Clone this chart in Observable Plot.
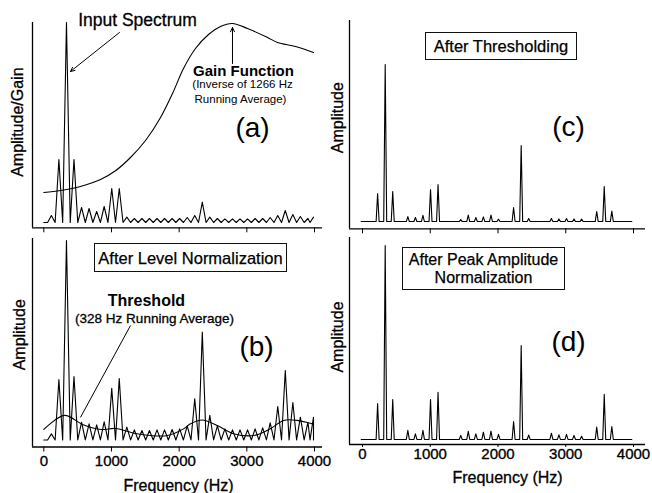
<!DOCTYPE html>
<html><head><meta charset="utf-8">
<script src="https://cdn.jsdelivr.net/npm/d3@7"></script>
<script src="https://cdn.jsdelivr.net/npm/@observablehq/plot@0.6"></script>
<style>
html,body{margin:0;padding:0;background:#fff;}
#root{position:relative;width:652px;height:493px;background:#fff;overflow:hidden;font-family:"Liberation Sans",Arial,Helvetica,sans-serif;color:#000;}
.panel{position:absolute;}
.panel svg{display:block;overflow:visible;}
.panel [aria-label^="x-axis"] text{stroke:#000;stroke-width:0.35px;}
.box{position:absolute;border:1.3px solid #111;box-sizing:border-box;display:flex;align-items:center;justify-content:center;text-align:center;font-size:16.5px;line-height:18px;-webkit-text-stroke:0.25px #000;background:#fff;}
.box.two{font-size:16px;line-height:18px;}
</style></head><body><div id="root"></div>
<script>
// ---------- data ----------
const tickHz = [0, 1000, 2000, 3000, 4000];
const harmonicHz = [112, 223, 335, 446, 558, 669, 781, 892, 1004, 1115, 1227, 1338, 1450, 1561, 1673, 1784, 1896, 2007, 2119, 2230, 2342, 2453, 2565, 2676, 2788, 2899, 3011, 3122, 3234, 3345, 3457, 3568, 3680, 3791, 3903];
// (a) input spectrum
const inputAmp = [3.5, 31.5, 100, 31.5, 7.5, 7, 5.5, 8, 17, 17, 2.7, 2, 2, 2, 2, 2, 2, 2, 2.5, 3.5, 10.2, 2.7, 2, 1.8, 1.8, 1.8, 1.8, 2, 2, 2.5, 3.5, 6, 4, 3, 2];
const inputEnd = {f: 3985, v: 2.7};
// (a) gain function
const gainHz  = [0, 247, 542, 838, 1064, 1281, 1503, 1725, 1902, 2064, 2241, 2434, 2611, 2787, 3010, 3306, 3454, 3720, 3985];
const gainVal = [15, 16, 18, 21.5, 26, 32.5, 41, 52.5, 64.5, 77, 87, 94, 98, 99.5, 97, 92.5, 90, 88, 85];
// (b) after level normalization
const levelAmp = [3, 30, 99, 31.5, 8.8, 8, 7.5, 9, 25.6, 30.5, 6.4, 5, 4.7, 4.7, 5, 5, 5.2, 5.5, 7, 20.4, 53.5, 12.2, 7, 5.5, 5, 5, 5, 5.5, 6, 8.5, 16.6, 34.5, 18.6, 11.3, 8.8];
const levelEnd = {f: 3985, v: 11.3};
// (b) threshold
const thresholdHz  = [0, 306, 572, 852, 1059, 1354, 1576, 1827, 2064, 2167, 2340, 2561, 2806, 3102, 3348, 3545, 3743, 3964];
const thresholdVal = [5.2, 12.2, 7.7, 5.2, 5.7, 3.2, 2.2, 2.2, 5.5, 8.0, 9.9, 7.2, 3.1, 2.2, 5.6, 9.7, 9.7, 8.0];
// (c) after thresholding
const thresholdedAmp = [0, 13.9, 78.1, 14.9, 0, 2.5, 2.0, 3.1, 15.9, 18.4, 0, 0, 1.0, 3.2, 2.0, 2.3, 3.2, 1.2, 0, 7.0, 37.8, 1.5, 0, 0, 1.5, 1.3, 1.5, 1.3, 1.2, 0, 5.0, 17.4, 5.2, 0, 0];
// (d) after peak amplitude normalization
const peakNormAmp = [0, 17.8, 96.0, 19.8, 0, 4.5, 2.8, 4.5, 19.8, 23.3, 0, 0, 2.0, 4.0, 2.8, 3.6, 4.1, 2.5, 0, 8.9, 46.5, 2.2, 0, 0, 3.1, 2.3, 2.5, 2.0, 1.6, 0, 6.1, 22.3, 6.4, 0, 0];

// annotations (data coordinates: Hz, amplitude units)
const notesA = [
  {f: 1384, v: 101, t: "Input Spectrum", size: 17.5, weight: "normal"},
  {f: 2950, v: 75.5, t: "Gain Function", size: 15, weight: "bold"},
  {f: 2936, v: 69, t: "(Inverse of 1266 Hz", size: 11.5, weight: "normal"},
  {f: 2906, v: 61.5, t: "Running Average)", size: 11.5, weight: "normal"},
  {f: 3084, v: 47, t: "(a)", size: 28, weight: "normal"}
];
const arrowsA = [{f1: 1118, v1: 95, f2: 394, v2: 75.5}, {f1: 2788, v1: 79.5, f2: 2788, v2: 97.5}];
const notesB = [
  {f: 1517, v: 69.2, t: "Threshold", size: 16, weight: "bold"},
  {f: 1636, v: 60.3, t: "(328 Hz Running Average)", size: 13.5, weight: "normal"},
  {f: 3143, v: 45.9, t: "(b)", size: 28, weight: "normal"}
];
const linksB = [{f1: 1281, v1: 56.8, f2: 542, v2: 11.2}];
const notesC = [{f: 3041, v: 47.2, t: "(c)", size: 28, weight: "normal"}];
const notesD = [{f: 3041, v: 48, t: "(d)", size: 28, weight: "normal"}];

// ---------- helpers ----------
const FONT = '"Liberation Sans", Arial, Helvetica, sans-serif';
function harmonicLine(amps, end, drop) {
  const pts = [{f: 0, v: 0}];
  harmonicHz.forEach((f, i) => {
    const prev = i === 0 ? 0 : harmonicHz[i - 1];
    pts.push({f: (prev + f) / 2, v: 0});
    pts.push({f, v: amps[i]});
  });
  const last = harmonicHz[harmonicHz.length - 1];
  pts.push({f: (last + end.f) / 2 - 10, v: 0});
  pts.push({f: end.f, v: end.v});
  if (drop) pts.push({f: end.f, v: 0});
  return pts;
}
function spikeLine(amps) {
  const pts = [{f: -20, v: 0}];
  harmonicHz.forEach((f, i) => {
    if (amps[i] > 0) { pts.push({f: f - 22, v: 0}, {f, v: amps[i]}, {f: f + 22, v: 0}); }
  });
  pts.push({f: 3975, v: 0});
  return pts;
}
function curvePts(hz, val) { return hz.map((f, i) => ({f, v: val[i]})); }
function noteMarks(notes) {
  return notes.map(n => Plot.text([n], {x: "f", y: "v", text: "t", fontSize: n.size, fontWeight: n.weight,
    fill: "#000", stroke: n.size > 12 && n.weight === "normal" && n.size < 20 ? "#000" : "none", strokeWidth: 0.3, lineAnchor: "middle"}));
}
function yLabel(label, dx, dy) {
  return Plot.text([label], {text: d => d, frameAnchor: "left", rotate: -90, dx, dy, textAnchor: "middle",
    lineAnchor: "middle", fontSize: 16, fill: "#000", stroke: "#000", strokeWidth: 0.3});
}
function xLabel(dx, dy) {
  return Plot.text(["Frequency (Hz)"], {text: d => d, frameAnchor: "bottom", dx, dy, textAnchor: "middle",
    lineAnchor: "middle", fontSize: 16, fill: "#000", stroke: "#000", strokeWidth: 0.3});
}
function panel(o) {
  const svg = Plot.plot({
    width: o.width, height: o.height,
    marginLeft: o.mL, marginRight: o.mR, marginTop: o.mT, marginBottom: o.mB,
    style: {fontFamily: FONT, fontSize: "15px", color: "#000", background: "transparent", overflow: "visible"},
    x: {domain: o.xDom, ticks: tickHz, tickSize: o.tickSize, tickPadding: o.tickPadding,
        tickFormat: o.labels ? (d => String(d)) : (() => ""), label: null},
    y: {domain: o.yDom, axis: null},
    marks: [
      Plot.ruleY([o.yDom[0]], {stroke: "#000", strokeWidth: 1.3}),
      Plot.ruleX([o.xDom[0]], {stroke: "#000", strokeWidth: 1.3}),
      ...o.marks
    ]
  });
  const div = document.createElement("div");
  div.className = "panel";
  div.style.left = o.left + "px"; div.style.top = o.top + "px";
  div.appendChild(svg);
  document.getElementById("root").appendChild(div);
}
function box(lines, left, top, w, h) {
  const d = document.createElement("div");
  d.className = "box" + (lines.length > 1 ? " two" : "");
  Object.assign(d.style, {left: left + "px", top: top + "px", width: w + "px", height: h + "px", flexDirection: "column"});
  for (const t of lines) {
    const s = document.createElement("div");
    s.textContent = t;
    d.appendChild(s);
  }
  document.getElementById("root").appendChild(d);
}

const line = (pts, extra = {}) => Plot.line(pts, {x: "f", y: "v", stroke: "#000", strokeWidth: 1.1, ...extra});
const LX = [-167, 4118], RX = [-192, 4177];

// (a)
panel({left: 0, top: 0, width: 330, height: 240, mL: 32, mR: 8, mT: 22, mB: 12.7,
  xDom: LX, yDom: [-2.65, 100], tickSize: 5, tickPadding: 3, labels: false,
  marks: [
    line(harmonicLine(inputAmp, inputEnd, false)),
    line(curvePts(gainHz, gainVal), {curve: "catmull-rom"}),
    Plot.arrow(arrowsA, {x1: "f1", y1: "v1", x2: "f2", y2: "v2", stroke: "#000", strokeWidth: 1, headLength: 7, headAngle: 50}),
    ...noteMarks(notesA),
    yLabel("Amplitude/Gain", -15, -3)
  ]});
// (b)
panel({left: 0, top: 230, width: 330, height: 263, mL: 32, mR: 8, mT: 8, mB: 46.5,
  xDom: LX, yDom: [-3.5, 100], tickSize: 5, tickPadding: 3, labels: true,
  marks: [
    line(harmonicLine(levelAmp, levelEnd, true)),
    line(curvePts(thresholdHz, thresholdVal), {curve: "catmull-rom"}),
    Plot.link(linksB, {x1: "f1", y1: "v1", x2: "f2", y2: "v2", stroke: "#000", strokeWidth: 1}),
    ...noteMarks(notesB),
    yLabel("Amplitude", -13, -8),
    xLabel(1, 38.5)
  ]});
// (c)
panel({left: 330, top: 0, width: 322, height: 240, mL: 19, mR: 7, mT: 20, mB: 11.7,
  xDom: RX, yDom: [-3.6, 100], tickSize: 5, tickPadding: 3, labels: false,
  marks: [
    line(spikeLine(thresholdedAmp)),
    ...noteMarks(notesC),
    yLabel("Amplitude", -12, -7)
  ]});
// (d)
panel({left: 330, top: 230, width: 322, height: 263, mL: 19, mR: 7, mT: 7, mB: 49,
  xDom: RX, yDom: [-2.5, 100], tickSize: 3, tickPadding: 1, labels: true,
  marks: [
    line(spikeLine(peakNormAmp)),
    ...noteMarks(notesD),
    yLabel("Amplitude", -12, -4),
    xLabel(10, 33)
  ]});

box(["After Level Normalization"], 94, 243, 193, 29);
box(["After Thresholding"], 425, 32, 152, 28);
box(["After Peak Amplitude", "Normalization"], 402, 247, 163, 43);
</script></body></html>
